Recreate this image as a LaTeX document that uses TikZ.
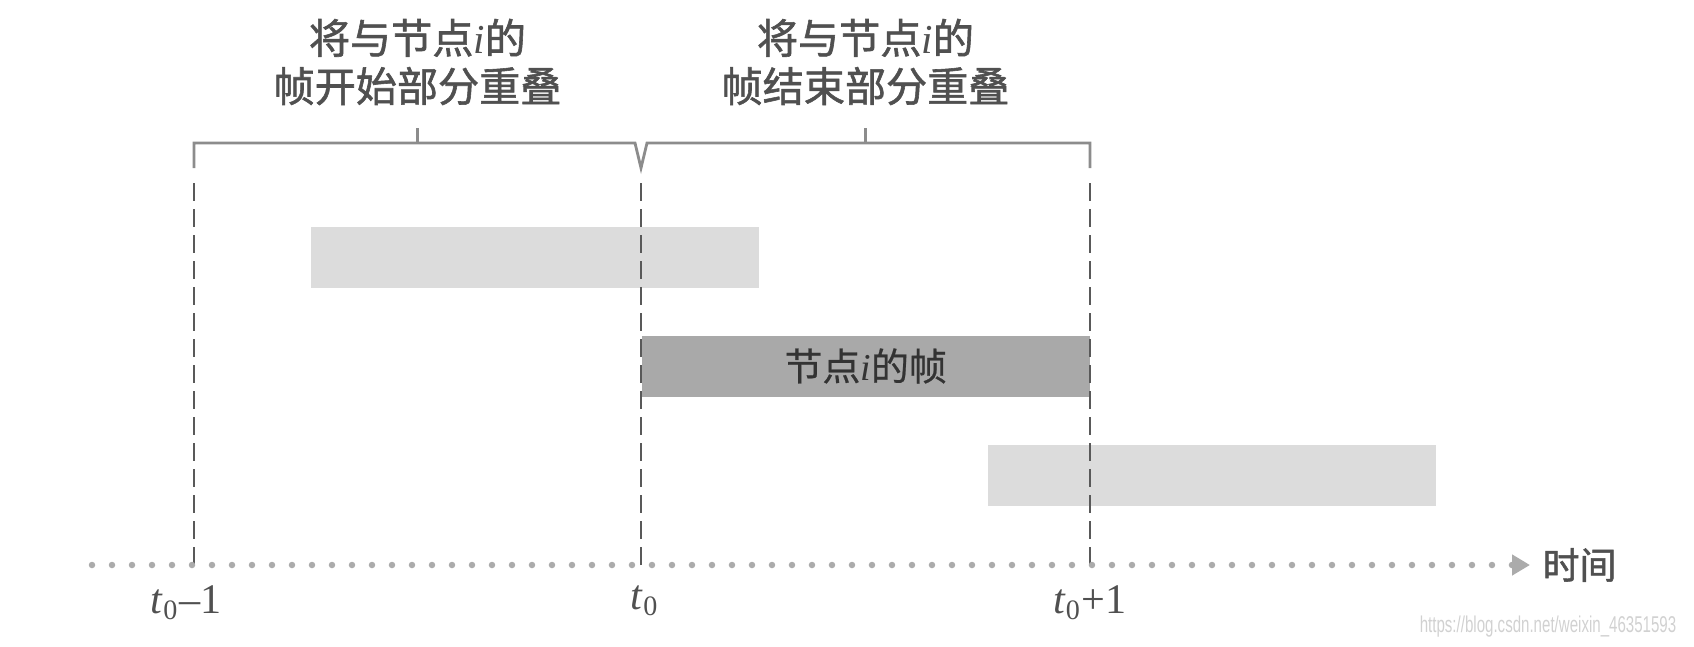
\documentclass[tikz,border=0pt]{standalone}
\usepackage{fontspec}
\newfontfamily\cjk{Noto Sans CJK SC}[FakeBold=1.4]
\newfontfamily\cjkbar{Noto Sans CJK SC}[FakeBold=0.6]
\newfontfamily\wmfont{Liberation Sans}
\setmainfont{Liberation Serif}
\usepackage{xcolor}
\usepackage{tikz}
\usetikzlibrary{arrows.meta,positioning,calc}
\definecolor{barlight}{HTML}{DCDCDC}
\definecolor{bardark}{HTML}{A9A9A9}
\definecolor{inkgray}{HTML}{505050}
\definecolor{linegray}{HTML}{8C8C8C}
\definecolor{dotgray}{HTML}{ABABAB}
\tikzset{%
    framebar/.style = { minimum width=4.48cm, minimum height=0.61cm, inner sep=0pt, anchor=west },
    lightbar/.style = { framebar, fill=barlight },
     darkbar/.style = { framebar, fill=bardark, text=black!80, font=\cjkbar\fontsize{10.8pt}{12pt}\selectfont },
    toplabel/.style = { align=center, text=inkgray, font=\cjk\fontsize{11.7pt}{13.7pt}\selectfont },
   ticklabel/.style = { inner sep=0pt, text=inkgray, font=\fontsize{12pt}{14pt}\selectfont },
    timelabel/.style = { inner sep=0pt, anchor=west, text=inkgray, font=\cjk\fontsize{10.5pt}{12pt}\selectfont },
     bracket/.style = { linegray, line width=0.8pt },
       guide/.style = { black!65, line width=0.8pt, dash pattern=on 5pt off 2.4pt },
    timeaxis/.style = { dotgray, line width=0.065cm, line cap=round, dash pattern=on 0pt off 0.2cm },
   watermark/.style = { text=black!18, xscale=0.66, font=\wmfont\fontsize{6.5pt}{7pt}\selectfont }
}
\begin{document}
\begin{tikzpicture}
  \useasboundingbox (0,0) rectangle (16.94,6.46);

  % time marks on the axis
  \coordinate (tm) at (1.94,0.81);
  \coordinate (t0) at (6.41,0.81);
  \coordinate (tp) at (10.90,0.81);
  \coordinate (axstart) at (0.92,0.81);
  \coordinate (axtip) at (15.30,0.81);

  % frames
  \node[lightbar] (early) at (3.10,3.885) {};
  \node[darkbar]  (frame) at (t0 |- 0,2.80) {节点{\rmfamily\itshape i}的帧};
  \node[lightbar] (late)  at (9.87,1.71) {};

  % guides
  \draw[guide] (tm) -- ++(0,3.82);
  \draw[guide] (t0) -- ++(0,3.82);
  \draw[guide] (tp) -- ++(0,3.82);

  % bracket over both halves
  \coordinate (bl) at (tm |- 0,4.78);
  \coordinate (bm) at (t0 |- 0,4.78);
  \coordinate (br) at (tp |- 0,4.78);
  \draw[bracket] (bl) -- ++(0,0.25) -- ($(bm)+(-0.06,0.25)$) -- (bm)
    -- ($(bm)+(0.06,0.25)$) -- ($(br)+(0,0.25)$) -- (br);
  \draw[bracket] ($(bl)!0.5!(bm)+(0,0.25)$) -- ++(0,0.15);
  \draw[bracket] ($(bm)!0.5!(br)+(0,0.25)$) -- ++(0,0.15);

  \node[toplabel] (startlbl) at ($(bl)!0.5!(bm)+(0,1.06)$) {将与节点{\rmfamily\itshape i}的\\帧开始部分重叠};
  \node[toplabel] (endlbl)   at ($(bm)!0.5!(br)+(0,1.06)$) {将与节点{\rmfamily\itshape i}的\\帧结束部分重叠};

  % time axis
  \node[timelabel, right=0.12cm of axtip] (timelbl) {时间};
  \draw[timeaxis, -{Triangle[length=0.18cm,width=0.2cm]}] (axstart) -- (axtip);

  \node[ticklabel, below=0.2cm of tm, xshift=-0.08cm] (tmlbl) {\textit{t}\textsubscript{0}\textendash1};
  \node[ticklabel, below=0.2cm of t0, xshift=0.04cm] (t0lbl) {\textit{t}\textsubscript{0}};
  \node[ticklabel, below=0.2cm of tp] (tplbl) {\textit{t}\textsubscript{0}+1};

  \node[watermark] (wmark) at (15.48,0.19) {https://blog.csdn.net/weixin\_46351593};
\end{tikzpicture}
\end{document}
